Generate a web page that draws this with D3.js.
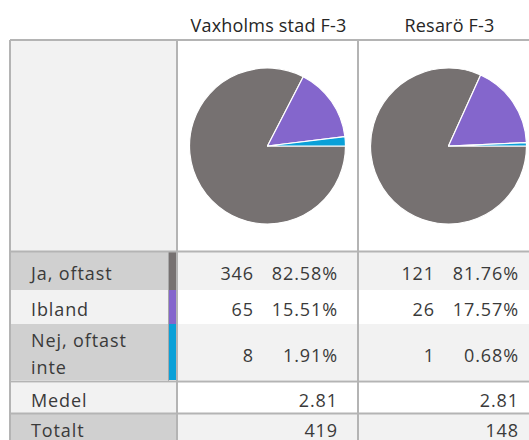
<!DOCTYPE html>
<html>
<head>
<meta charset="utf-8">
<script src="https://cdn.jsdelivr.net/npm/d3@7"></script>
<style>
  html, body { margin: 0; padding: 0; background: #fff; overflow: hidden; }
  text { font-family: "Open Sans", "Noto Sans", sans-serif; }
</style>
</head>
<body>
<svg id="chart" width="529" height="440"></svg>
<script>
// Answer categories and per-school results
const categories = ["Ja, oftast", "Ibland", "Nej, oftast inte"];
const categoryLines = [["Ja, oftast"], ["Ibland"], ["Nej, oftast", "inte"]];
const groups = ["Vaxholms stad F-3", "Resarö F-3"];
const counts = [[346, 65, 8], [121, 26, 1]];
const percents = [["82.58%", "15.51%", "1.91%"], ["81.76%", "17.57%", "0.68%"]];
const means = ["2.81", "2.81"];
const totals = [419, 148];
const summaryLabels = ["Medel", "Totalt"];
const colors = ["#767171", "#8466cc", "#0aa0d8"];

const svg = d3.select("#chart");
const fontSize = 18;
const cellSpacing = "0.9px";

// Table geometry
const tableLeft = 10, labelRight = 177, tableTop = 40;
const colX = d3.scaleBand().domain(groups).range([labelRight, labelRight + 2 * 181]).paddingInner(0);
const pieRow = [tableTop, 251];
const catRows = [[252, 290], [290, 324], [324, 380]];
const sumRows = [[383, 413], [414, 446]];
const catBaselines = [[280], [316], [347, 374]];
const catValBaselines = [280, 316, 362];
const sumBaselines = [407, 437];
const catFill = ["#d0d0d0", "#f2f2f2", "#d0d0d0"];
const catValFill = ["#f2f2f2", "#ffffff", "#f2f2f2"];
const sumFill = ["#f2f2f2", "#d0d0d0"];
const sumValFill = ["#ffffff", "#f2f2f2"];
const lineColor = "#b4b4b4";
const textColor = "#3a3a3a";

// Label column backgrounds
svg.append("rect").attr("x", tableLeft).attr("y", pieRow[0]).attr("width", labelRight - tableLeft).attr("height", pieRow[1] - pieRow[0]).attr("fill", "#f2f2f2");
catRows.forEach((r, i) => {
  svg.append("rect").attr("x", tableLeft).attr("y", r[0]).attr("width", labelRight - tableLeft).attr("height", r[1] - r[0]).attr("fill", catFill[i]);
});
sumRows.forEach((r, i) => {
  svg.append("rect").attr("x", tableLeft).attr("y", r[0]).attr("width", labelRight - tableLeft).attr("height", r[1] - r[0]).attr("fill", sumFill[i]);
});

// Value cell backgrounds
groups.forEach(g => {
  const x0 = colX(g), w = colX.bandwidth();
  catRows.forEach((r, i) => svg.append("rect").attr("x", x0).attr("y", r[0]).attr("width", w).attr("height", r[1] - r[0]).attr("fill", catValFill[i]));
  sumRows.forEach((r, i) => svg.append("rect").attr("x", x0).attr("y", r[0]).attr("width", w).attr("height", r[1] - r[0]).attr("fill", sumValFill[i]));
});

// Colour key strip beside the category labels
svg.append("line").attr("x1", 168.5).attr("x2", 168.5).attr("y1", catRows[0][0]).attr("y2", catRows[2][1] + 1).attr("stroke", "#a8a8a8").attr("stroke-width", 1);
catRows.forEach((r, i) => {
  svg.append("rect").attr("x", 169).attr("y", r[0]).attr("width", 7).attr("height", r[1] - r[0]).attr("fill", colors[i]);
});

// Grid lines
const hLines = [tableTop, pieRow[1] + 0.5, 381.5, 413.5];
hLines.forEach(y => {
  svg.append("line").attr("x1", tableLeft).attr("x2", 529).attr("y1", y).attr("y2", y).attr("stroke", lineColor).attr("stroke-width", 2);
});
const vLines = [tableLeft, labelRight, colX(groups[1])];
vLines.forEach(x => {
  svg.append("line").attr("x1", x).attr("x2", x).attr("y1", tableTop).attr("y2", 440).attr("stroke", lineColor).attr("stroke-width", 2);
});

// Column headers
groups.forEach(g => {
  svg.append("text").attr("x", colX(g) + colX.bandwidth() / 2 + 1).attr("y", 32)
    .attr("text-anchor", "middle").attr("font-size", fontSize).attr("letter-spacing", "0.2px")
    .attr("fill", "#262626").text(g);
});

// Pies
const pie = d3.pie().sort(null).startAngle(Math.PI / 2).endAngle(Math.PI / 2 + 2 * Math.PI);
const arc = d3.arc().innerRadius(0).outerRadius(78);
groups.forEach((g, gi) => {
  const cx = colX(g) + colX.bandwidth() / 2;
  const cy = 146;
  const gp = svg.append("g").attr("transform", `translate(${cx},${cy})`);
  gp.selectAll("path").data(pie(counts[gi])).join("path")
    .attr("d", arc).attr("fill", (d, i) => colors[i])
    .attr("stroke", "#ffffff").attr("stroke-width", 1.2).attr("stroke-linejoin", "round");
});

// Category labels
catRows.forEach((r, i) => {
  categoryLines[i].forEach((t, li) => {
    svg.append("text").attr("x", 31).attr("y", catBaselines[i][li])
      .attr("font-size", fontSize).attr("letter-spacing", cellSpacing).attr("fill", textColor).text(t);
  });
});
sumRows.forEach((r, i) => {
  svg.append("text").attr("x", 31).attr("y", sumBaselines[i])
    .attr("font-size", fontSize).attr("letter-spacing", cellSpacing).attr("fill", textColor).text(summaryLabels[i]);
});

// Values (right-aligned; x nudged to offset trailing letter spacing)
const fmt = d3.format("d");
const valueText = (x, y, t) => svg.append("text").attr("x", x + 1).attr("y", y).attr("text-anchor", "end")
  .attr("font-size", fontSize).attr("letter-spacing", cellSpacing).attr("fill", textColor).text(t);
groups.forEach((g, gi) => {
  const x0 = colX(g);
  catRows.forEach((r, i) => {
    valueText(x0 + 76, catValBaselines[i], fmt(counts[gi][i]));
    valueText(x0 + 160, catValBaselines[i], percents[gi][i]);
  });
  valueText(x0 + 160, sumBaselines[0], means[gi]);
  valueText(x0 + 160, sumBaselines[1], fmt(totals[gi]));
});
</script>
</body>
</html>
